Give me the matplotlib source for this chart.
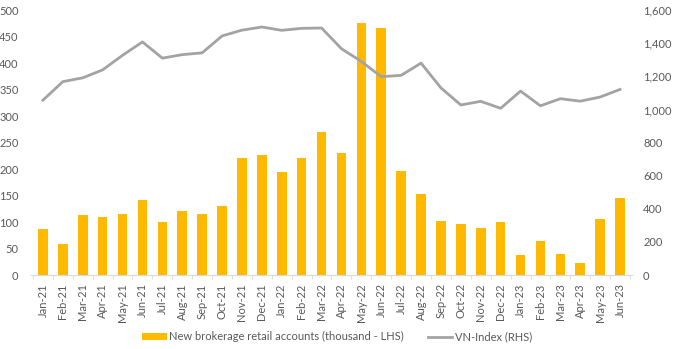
import matplotlib
matplotlib.use("Agg")
import matplotlib.pyplot as plt
import numpy as np

months = ["Jan-21","Feb-21","Mar-21","Apr-21","May-21","Jun-21","Jul-21","Aug-21","Sep-21","Oct-21",
          "Nov-21","Dec-21","Jan-22","Feb-22","Mar-22","Apr-22","May-22","Jun-22","Jul-22","Aug-22",
          "Sep-22","Oct-22","Nov-22","Dec-22","Jan-23","Feb-23","Mar-23","Apr-23","May-23","Jun-23"]
new_accounts = [86, 58, 113, 110, 115, 141, 101, 121, 116, 131,
                221, 227, 195, 221, 270, 231, 476, 467, 197, 152,
                102, 97, 88, 100, 37, 65, 39, 23, 105, 146]
vn_index = [1056, 1168, 1191, 1239, 1327, 1408, 1310, 1331, 1342, 1444,
            1479, 1498, 1478, 1490, 1492, 1367, 1290, 1198, 1206, 1280,
            1130, 1027, 1049, 1007, 1111, 1022, 1065, 1050, 1075, 1121]

left_ticks = [0, 50, 100, 150, 200, 250, 300, 350, 400, 450, 500]
right_ticks = [0, 200, 400, 600, 800, 1000, 1200, 1400, 1600]

plt.rcParams['font.family'] = ['Lato', 'DejaVu Sans']
txt = '#595959'
fs = 8
fig = plt.figure(figsize=(6.8, 3.49), dpi=100)
ax = fig.add_axes([31 / 680, 0.212, 601 / 680, 0.759])
x = np.arange(len(months))
ax.bar(x, new_accounts, width=0.48, color='#FFB900', label='New brokerage retail accounts (thousand - LHS)', zorder=2)
ax.set_ylim(0, 500)
ax.set_yticks(left_ticks)
ax.set_yticklabels([str(v) for v in left_ticks])
ax.set_xlim(-0.6, len(months) - 0.4)
ax.set_xticks(x)
ax.set_xticklabels(months, rotation=90)
ax.set_xticks(np.arange(-0.5, len(months), 1), minor=True)
ax.tick_params(axis='x', which='major', length=0, labelsize=fs, colors=txt, pad=6)
ax.tick_params(axis='x', which='minor', length=3, color='#D9D9D9')
ax.tick_params(axis='y', length=0, labelsize=fs, colors=txt, pad=9)
for s in ['top', 'right', 'left']:
    ax.spines[s].set_visible(False)
ax.spines['bottom'].set_color('#D9D9D9')

ax2 = ax.twinx()
ax2.plot(x, vn_index, color='#A3A3A3', lw=2, label='VN-Index (RHS)', zorder=3)
ax2.set_ylim(0, 1600)
ax2.set_yticks(right_ticks)
ax2.set_yticklabels([f"{v:,}" for v in right_ticks])
ax2.tick_params(axis='y', length=0, labelsize=fs, colors=txt, pad=8)
for s in ['top', 'right', 'left', 'bottom']:
    ax2.spines[s].set_visible(False)

h1, l1 = ax.get_legend_handles_labels()
h2, l2 = ax2.get_legend_handles_labels()
fig.legend(h1 + h2, l1 + l2, loc='center', bbox_to_anchor=(337 / 680, 0.035), ncol=2, frameon=False,
           fontsize=fs, labelcolor=txt, handlelength=2.2, handleheight=0.6, columnspacing=2.2, handletextpad=0.2)

fig.savefig('out.png', dpi=100)
